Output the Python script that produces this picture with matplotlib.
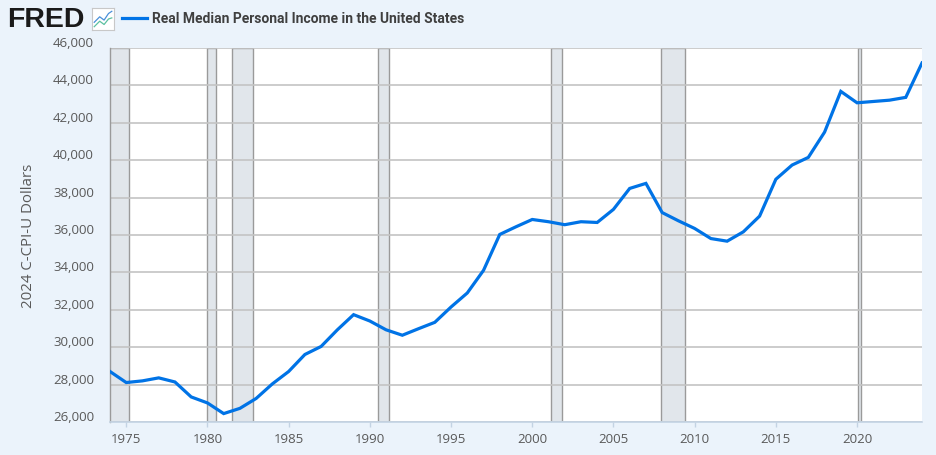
import matplotlib
matplotlib.use("Agg")
import matplotlib.pyplot as plt
import matplotlib.transforms as mtransforms
from matplotlib.ticker import FuncFormatter

# Real Median Personal Income in the United States (2024 C-CPI-U dollars)
years = list(range(1974, 2025))
income = [
    28700, 28110, 28200, 28360, 28140, 27340, 27020, 26450, 26730, 27260,
    28040, 28700, 29610, 30040, 30930, 31740, 31400, 30930, 30640, 30990,
    31330, 32150, 32900, 34110, 36030, 36440, 36830, 36710, 36550, 36710,
    36670, 37370, 38490, 38760, 37200, 36760, 36350, 35810, 35670, 36170,
    37010, 38980, 39740, 40150, 41500, 43680, 43070, 43140, 43210, 43360,
    45200,
]

# NBER recessions (start, end) as decimal years
recessions = [
    (1973.83, 1975.17), (1980.0, 1980.5), (1981.5, 1982.83),
    (1990.5, 1991.17), (2001.17, 2001.83), (2007.92, 2009.42),
    (2020.08, 2020.25),
]

x_ticks = [1975, 1980, 1985, 1990, 1995, 2000, 2005, 2010, 2015, 2020]
y_ticks = list(range(26000, 46001, 2000))

title = "Real Median Personal Income in the United States"
y_label = "2024 C-CPI-U Dollars"

BG = "#ebf3fb"
LINE = "#0073e6"
TXT = "#595959"

W, H = 936, 456
fig = plt.figure(figsize=(W / 100, H / 100), dpi=100, facecolor=BG)
ax = fig.add_axes([110 / W, 33 / H, 812 / W, 374 / H])
ax.set_facecolor("white")

for start, end in recessions:
    ax.axvspan(start, end, facecolor="#e1e6eb", edgecolor="#9a9a9a", lw=1.0, zorder=0.2)

ax.plot(years, income, color=LINE, lw=2.3, zorder=3, solid_joinstyle="miter")

ax.set_xlim(1974, 2024)
ax.set_ylim(26000, 46000)
ax.set_xticks(x_ticks)
ax.set_yticks(y_ticks)
ax.yaxis.set_major_formatter(FuncFormatter(lambda v, p: f"{int(v):,}"))

ax.set_axisbelow(True)
ax.yaxis.grid(True, color="#c4c4c4", lw=1.2)
ax.xaxis.grid(False)

for side in ("top", "right"):
    ax.spines[side].set_visible(False)
ax.spines["left"].set_color("#9a9a9a")
ax.spines["left"].set_linewidth(1.0)
ax.spines["bottom"].set_color("#c3d3e3")
ax.spines["bottom"].set_linewidth(1.2)

ax.tick_params(axis="x", length=3.6, width=1, color="#c3d3e3", pad=3.4,
               labelsize=9.5, labelcolor=TXT)
ax.tick_params(axis="y", length=0, pad=11.5, labelsize=9.5, labelcolor=TXT)
for lab in ax.get_xticklabels() + ax.get_yticklabels():
    lab.set_fontfamily("Open Sans")

# y labels sit a little above their gridlines, as in FRED
shift = mtransforms.ScaledTranslation(0, 7 / 100, fig.dpi_scale_trans)
for lab in ax.get_yticklabels():
    lab.set_transform(lab.get_transform() + shift)

ax.set_ylabel(y_label, fontsize=10.8, color=TXT, family="Open Sans")
ax.yaxis.set_label_coords(-74 / 812, 0.5)

# header: logo, icon, legend
fig.text(7 / W, 1 - 20 / H, "FRED", fontsize=20.5, fontweight="bold",
         family="Liberation Sans", color="#1a1a1a", va="center", ha="left")
icon = fig.add_axes([92 / W, 1 - 31 / H, 22 / W, 22 / H])
icon.set_facecolor("white")
icon.plot([0.1, 0.35, 0.55, 0.75, 0.9], [0.35, 0.6, 0.45, 0.75, 0.85], color="#4a90d9", lw=0.9)
icon.plot([0.1, 0.35, 0.55, 0.75, 0.9], [0.15, 0.4, 0.25, 0.5, 0.55], color="#5cc0a0", lw=0.9)
icon.set_xlim(0, 1)
icon.set_ylim(0, 1)
icon.set_xticks([])
icon.set_yticks([])
for s in icon.spines.values():
    s.set_color("#c8c8c8")
    s.set_linewidth(0.8)

fig.add_artist(plt.Line2D([122 / W, 147 / W], [1 - 19 / H, 1 - 19 / H],
                          color=LINE, lw=2.3, transform=fig.transFigure))
fig.text(152 / W, 1 - 19 / H, title, fontsize=10, fontweight="bold",
         family="Roboto", color="#3f3f3f", va="center", ha="left")

fig.savefig("out.png", dpi=100, facecolor=BG)
